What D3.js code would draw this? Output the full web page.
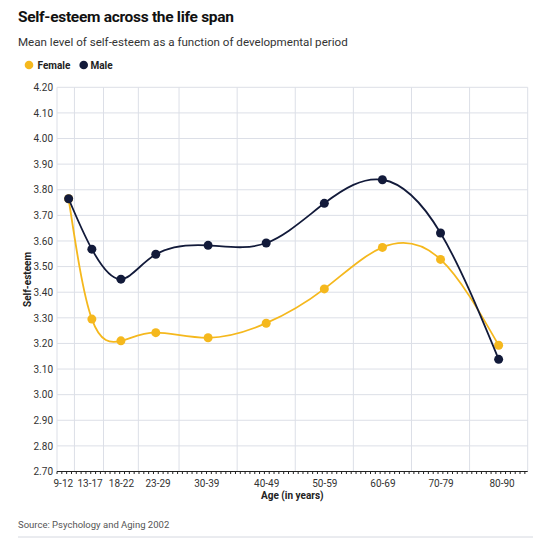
<!DOCTYPE html>
<html>
<head>
<meta charset="utf-8">
<script src="https://cdn.jsdelivr.net/npm/d3@7"></script>
<style>
  html, body { margin: 0; padding: 0; background: #fff; }
  svg { display: block; font-family: Roboto, "Open Sans", sans-serif; }
</style>
</head>
<body>
<svg id="chart" width="558" height="540"></svg>
<script>
// ---- data ----
const ageGroups   = ["9-12", "13-17", "18-22", "23-29", "30-39", "40-49", "50-59", "60-69", "70-79", "80-90"];
const pointAges   = [11, 15, 20, 26, 35, 45, 55, 65, 75, 85];
const labelAges   = [10, 14.6, 20, 26.3, 34.7, 45, 55, 65, 75, 85.5];
const femaleVals  = [3.765, 3.295, 3.21, 3.242, 3.222, 3.279, 3.413, 3.575, 3.528, 3.193];
const maleVals    = [3.765, 3.568, 3.451, 3.548, 3.583, 3.592, 3.747, 3.839, 3.631, 3.138];
const gridAges    = [12, 17, 23, 30, 40, 50, 60, 70, 80, 90];
const yTicks      = [2.7, 2.8, 2.9, 3.0, 3.1, 3.2, 3.3, 3.4, 3.5, 3.6, 3.7, 3.8, 3.9, 4.0, 4.1, 4.2];
const xDomain     = [9, 90];
const yDomain     = [2.7, 4.2];
const minorStep   = 0.83;

const colors = { Female: "#f5b81d", Male: "#121a3a" };

const svg = d3.select("#chart");
const m = { left: 57, right: 558 - 527.7, top: 87.3, bottom: 540 - 471.5 };
const W = 558, H = 540;

const x = d3.scaleLinear().domain(xDomain).range([m.left, W - m.right]);
const y = d3.scaleLinear().domain(yDomain).range([H - m.bottom, m.top]);

// title & subtitle
svg.append("text").attr("x", 18).attr("y", 22.3)
  .attr("font-size", 15.5).attr("font-weight", 700).attr("fill", "#111")
  .attr("letter-spacing", -0.3)
  .text("Self-esteem across the life span");
svg.append("text").attr("x", 18).attr("y", 45.5)
  .attr("font-size", 11.6).attr("fill", "#333")
  .text("Mean level of self-esteem as a function of developmental period");

// legend
const legend = [{ name: "Female", cx: 29, tx: 37.5 }, { name: "Male", cx: 83.7, tx: 90.5 }];
legend.forEach(d => {
  svg.append("circle").attr("cx", d.cx).attr("cy", 65).attr("r", 4.3).attr("fill", colors[d.name]);
  svg.append("text").attr("x", d.tx).attr("y", 68.5).attr("font-size", 10)
    .attr("font-weight", 700).attr("fill", "#222").text(d.name);
});

// grid
const g = svg.append("g");
g.selectAll("line.hgrid").data(yTicks).join("line").attr("class", "hgrid")
  .attr("x1", m.left).attr("x2", W - m.right)
  .attr("y1", d => y(d)).attr("y2", d => y(d))
  .attr("stroke", "#dcdfe7").attr("stroke-width", 1);
g.selectAll("line.vgrid").data(gridAges).join("line").attr("class", "vgrid")
  .attr("x1", d => x(d)).attr("x2", d => x(d))
  .attr("y1", m.top).attr("y2", H - m.bottom)
  .attr("stroke", "#dcdfe7").attr("stroke-width", 1);
g.append("line").attr("x1", m.left).attr("x2", m.left)
  .attr("y1", m.top).attr("y2", H - m.bottom)
  .attr("stroke", "#dcdfe7");

// y axis labels
const yAxis = d3.axisLeft(y).tickValues(yTicks).tickFormat(d3.format(".2f")).tickSize(0).tickPadding(4);
const yg = svg.append("g").attr("transform", `translate(${m.left},0)`).call(yAxis);
yg.select(".domain").remove();
yg.selectAll("text").attr("font-size", 10).attr("fill", "#333").attr("font-family", "Roboto, sans-serif");

svg.append("text")
  .attr("transform", `translate(31,${(m.top + H - m.bottom) / 2}) rotate(-90)`)
  .attr("text-anchor", "middle").attr("font-size", 10).attr("font-weight", 700).attr("fill", "#222")
  .text("Self-esteem");

// x axis baseline and minor ticks
const xBase = H - m.bottom;
svg.append("line").attr("x1", m.left).attr("x2", W - m.right)
  .attr("y1", xBase).attr("y2", xBase).attr("stroke", "#222").attr("stroke-width", 1);
const minor = d3.range(xDomain[0], xDomain[1] + 0.001, minorStep);
svg.selectAll("line.minor").data(minor).join("line").attr("class", "minor")
  .attr("x1", d => x(d)).attr("x2", d => x(d))
  .attr("y1", xBase).attr("y2", xBase + 2.5)
  .attr("stroke", "#222").attr("stroke-width", 1);

const xAxis = d3.axisBottom(x).tickValues(labelAges)
  .tickFormat((d, i) => ageGroups[i]).tickSize(0).tickPadding(9);
const xg = svg.append("g").attr("transform", `translate(0,${xBase - 1})`).call(xAxis);
xg.select(".domain").remove();
xg.selectAll("text").attr("font-size", 10).attr("fill", "#333").attr("font-family", "Roboto, sans-serif");

svg.append("text").attr("x", (m.left + W - m.right) / 2).attr("y", 499)
  .attr("text-anchor", "middle").attr("font-size", 10).attr("font-weight", 700).attr("fill", "#222")
  .text("Age (in years)");

// source & separator
svg.append("text").attr("x", 18).attr("y", 527.5).attr("font-size", 9.5).attr("fill", "#555")
  .text("Source: Psychology and Aging 2002");
svg.append("line").attr("x1", 18).attr("x2", 533).attr("y1", 537).attr("y2", 537)
  .attr("stroke", "#d5d8e0").attr("stroke-width", 1);

// series
const series = [
  { name: "Female", values: femaleVals },
  { name: "Male", values: maleVals }
];
const line = d3.line().x((d, i) => x(pointAges[i])).y(d => y(d)).curve(d3.curveNatural);
series.forEach(s => {
  svg.append("path").attr("d", line(s.values)).attr("fill", "none")
    .attr("stroke", colors[s.name]).attr("stroke-width", 1.8);
  svg.selectAll(null).data(s.values).join("circle")
    .attr("cx", (d, i) => x(pointAges[i])).attr("cy", d => y(d)).attr("r", 4.5)
    .attr("fill", colors[s.name]);
});
</script>
</body>
</html>
